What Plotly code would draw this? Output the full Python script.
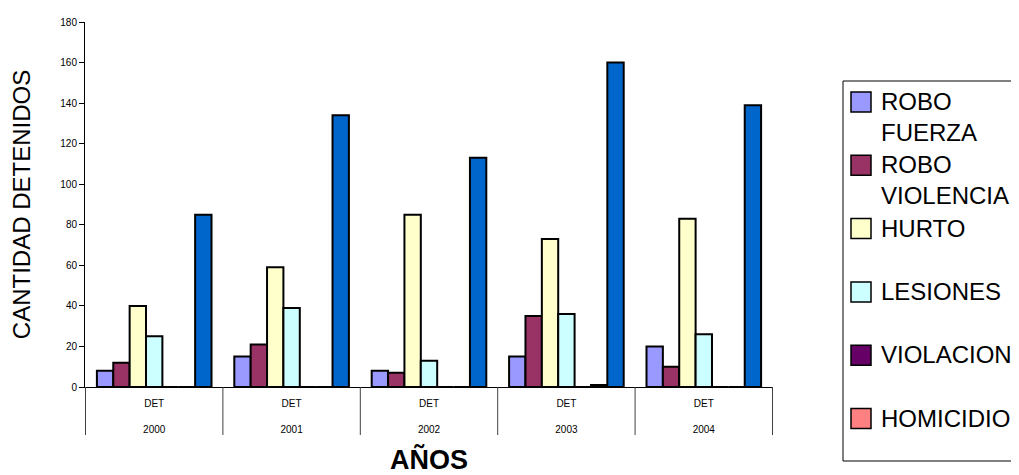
import plotly.graph_objects as go

# ---- data ----
years = ["2000", "2001", "2002", "2003", "2004"]
inner_label = "DET"

series_names = ["ROBO FUERZA", "ROBO VIOLENCIA", "HURTO", "LESIONES",
                "VIOLACION", "HOMICIDIO", "TOTAL"]
legend_labels = ["ROBO<br>FUERZA", "ROBO<br>VIOLENCIA", "HURTO", "LESIONES",
                 "VIOLACION", "HOMICIDIO"]

robo_fuerza = [8, 15, 8, 15, 20]
robo_violencia = [12, 21, 7, 35, 10]
hurto = [40, 59, 85, 73, 83]
lesiones = [25, 39, 13, 36, 26]
violacion = [0, 0, 0, 0, 0]
homicidio = [0, 0, 0, 1, 0]
total = [85, 134, 113, 160, 139]

colors = ["#9999FF", "#993366", "#FFFFCC", "#CCFFFF", "#660066", "#FF8080", "#0066CC"]
values = [robo_fuerza, robo_violencia, hurto, lesiones, violacion, homicidio, total]

# ---- layout geometry (page pixels; the page body has an 8px margin) ----
OFF = 8
W, H = 1019 - OFF, 475 - OFF
L, R, T, B = 85, 773, 22, 387          # plot area in page pixels
FONT = "Arial, Liberation Sans, sans-serif"


def px_x(px):
    return (px - L) / (R - L)


def px_y(py):
    return (B - py) / (B - T)


fig = go.Figure()
for name, vals, col in zip(series_names, values, colors):
    fig.add_trace(go.Bar(
        x=years, y=vals, name=name,
        marker=dict(color=col, line=dict(color="black", width=2)),
        showlegend=False,
    ))

shapes = []
# category dividers below the axis
for i in range(len(years) + 1):
    shapes.append(dict(type="line", xref="x", yref="paper",
                       x0=i - 0.5, x1=i - 0.5, y0=0, y1=px_y(435),
                       line=dict(color="#404040", width=1)))

# manual legend (Excel style, larger swatches)
shapes.append(dict(type="rect", xref="paper", yref="paper",
                   x0=px_x(843), x1=px_x(1060), y0=px_y(461), y1=px_y(81),
                   line=dict(color="black", width=1), fillcolor="rgba(0,0,0,0)"))
annotations = []
for i, lab in enumerate(legend_labels):
    cy = 102 + i * 63.3
    shapes.append(dict(type="rect", xref="paper", yref="paper",
                       x0=px_x(851), x1=px_x(871), y0=px_y(cy + 10), y1=px_y(cy - 10),
                       line=dict(color="black", width=1.5), fillcolor=colors[i]))
    annotations.append(dict(xref="paper", yref="paper", x=px_x(879), y=px_y(cy - 16),
                            xanchor="left", yanchor="top", align="left", showarrow=False,
                            text=lab, font=dict(family=FONT, size=24, color="black")))

fig.update_layout(
    width=W, height=H,
    margin=dict(l=L - OFF, r=(W + OFF) - R, t=T - OFF, b=(H + OFF) - B, autoexpand=False),
    paper_bgcolor="white", plot_bgcolor="white",
    barmode="group", bargap=0.166, bargroupgap=0,
    font=dict(family=FONT, color="black"),
    shapes=shapes, annotations=annotations,
    showlegend=False,
)
fig.update_xaxes(
    type="category", showline=True, linecolor="black", linewidth=1,
    ticks="", showgrid=False,
    tickmode="array", tickvals=years,
    ticktext=[inner_label + "<br> <br>" + y for y in years],
    ticklabelstandoff=7,
    tickfont=dict(family=FONT, size=10, color="black"),
    title=dict(text="AÑOS", font=dict(family=FONT, size=27, color="black", weight="bold"),
               standoff=19),
)
fig.update_yaxes(
    range=[0, 180], dtick=20, showline=True, linecolor="black", linewidth=1,
    ticks="outside", ticklen=5, tickcolor="black", showgrid=False, zeroline=False,
    tickfont=dict(family=FONT, size=10, color="black"),
    title=dict(text="CANTIDAD DETENIDOS", font=dict(family=FONT, size=24, color="black"),
               standoff=22),
)

fig.write_html("out.html")
